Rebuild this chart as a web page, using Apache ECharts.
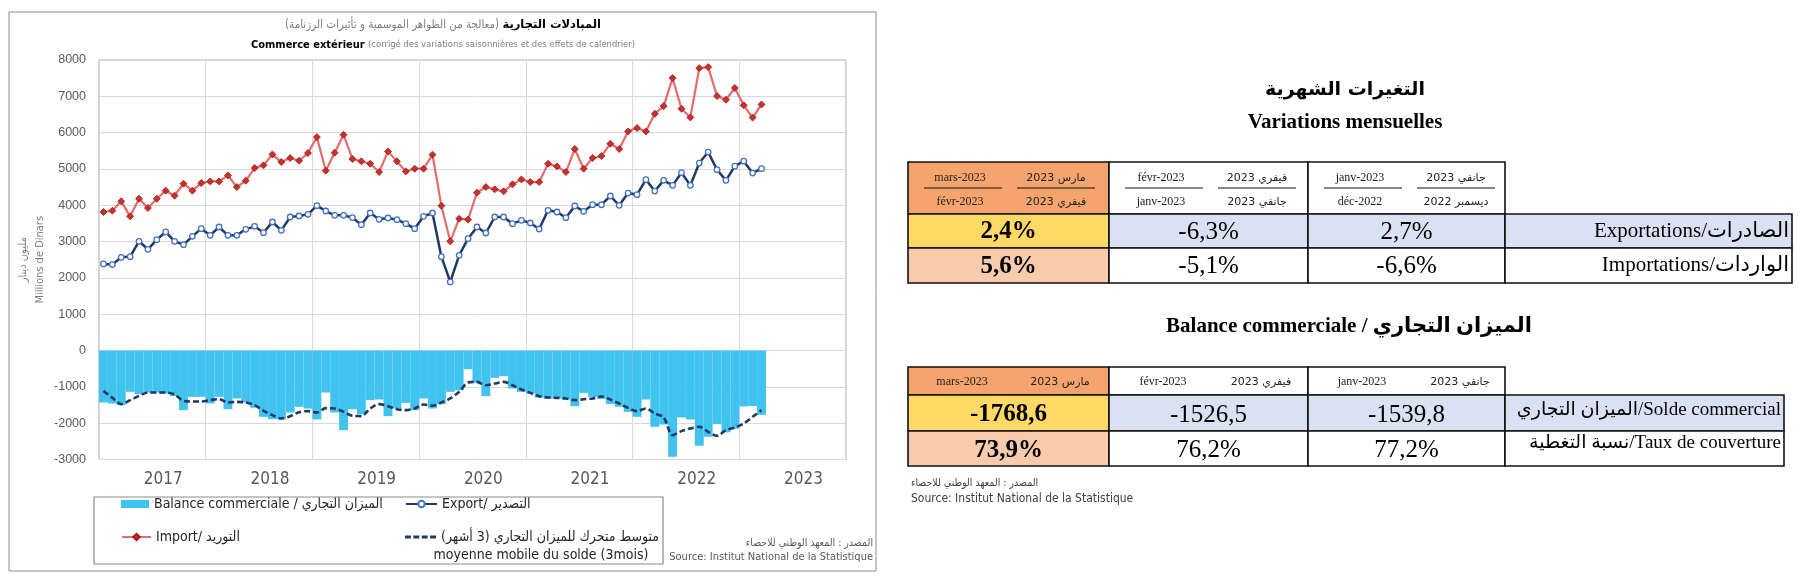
<!DOCTYPE html>
<html><head><meta charset="utf-8">
<script src="https://cdn.jsdelivr.net/npm/echarts@6/dist/echarts.min.js"></script>
<style>html,body{margin:0;padding:0;background:#fff}#c{width:1802px;height:583px}</style>
</head><body><div id="c"></div>
<script>
// ---------- DATA ----------
const years = ['2017','2018','2019','2020','2021','2022','2023'];
const monthNums = ['01','02','03','04','05','06','07','08','09','10','11','12'];

// Export (millions de dinars), Jan 2017 .. Mar 2023
const exportsM = [
  2384, 2366, 2568, 2586, 3008, 2788, 3054, 3265, 3008, 2916, 3145, 3356,
  3173, 3402, 3173, 3173, 3338, 3420, 3246, 3540, 3310, 3677, 3705, 3751,
  3989, 3842, 3723, 3723, 3660, 3466, 3787, 3613, 3650, 3604, 3494, 3356,
  3696, 3787, 2586, 1889, 2623, 3081, 3402, 3237, 3677, 3677, 3494, 3585,
  3512, 3347, 3861, 3815, 3659, 3980, 3833, 4016, 4015, 4255, 3998, 4337,
  4292, 4704, 4392, 4686, 4548, 4897, 4548, 5163, 5465, 4979, 4686, 5076,
  5213, 4887, 5008
];
// Import
const importsM = [
  3815, 3851, 4108, 3695, 4181, 3925, 4181, 4402, 4264, 4594, 4402, 4612,
  4658, 4658, 4823, 4502, 4677, 5025, 5099, 5401, 5190, 5300, 5227, 5438,
  5878, 4952, 5447, 5942, 5273, 5209, 5144, 4915, 5484, 5209, 4933, 5007,
  5007, 5392, 3989, 3008, 3631, 3604, 4347, 4502, 4438, 4383, 4576, 4713,
  4640, 4640, 5144, 5071, 4915, 5548, 5007, 5300, 5355, 5695, 5548, 6034,
  6126, 6034, 6520, 6731, 7501, 6657, 6419, 7776, 7804, 7006, 6905, 7230,
  6753, 6414, 6776
];
// Balance commerciale
const balanceM = [
  -1431, -1458, -1504, -1137, -1201, -1155, -1155, -1183, -1256, -1641, -1275, -1275,
  -1458, -1275, -1614, -1320, -1430, -1577, -1825, -1889, -1889, -1706, -1550, -1596,
  -1898, -1155, -1706, -2192, -1614, -1751, -1366, -1348, -1806, -1596, -1440, -1641,
  -1320, -1596, -1476, -1137, -1091, -514, -890, -1256, -752, -706, -1045, -1137,
  -1183, -1293, -1320, -1320, -1348, -1531, -1165, -1275, -1330, -1470, -1550, -1687,
  -1825, -1348, -2100, -2036, -2925, -1843, -1898, -2623, -2375, -2027, -2250, -2154,
  -1540, -1527, -1769
];
// Moyenne mobile du solde (3 mois)
const balanceMA3 = [
  -1110, -1302, -1476, -1366, -1247, -1155, -1155, -1155, -1210, -1385, -1403, -1403,
  -1366, -1339, -1430, -1412, -1430, -1504, -1660, -1779, -1871, -1806, -1696, -1669,
  -1706, -1586, -1596, -1687, -1797, -1806, -1596, -1476, -1531, -1614, -1641, -1596,
  -1486, -1522, -1430, -1320, -1137, -880, -862, -954, -908, -862, -954, -1073,
  -1165, -1256, -1293, -1302, -1320, -1366, -1339, -1320, -1265, -1348, -1458, -1577,
  -1669, -1596, -1733, -1843, -2329, -2219, -2146, -2100, -2237, -2348, -2192, -2118,
  -2008, -1825, -1641
];
const yMin = -3000, yMax = 8000, yStep = 1000;

// Table 1 : variations mensuelles
const curMonthFr  = ['mars-2023', 'févr-2023', 'janv-2023'];
const curMonthAr  = ['مارس 2023', 'فيفري 2023', 'جانفي 2023'];
const prevMonthFr = ['févr-2023', 'janv-2023', 'déc-2022'];
const prevMonthAr = ['فيفري 2023', 'جانفي 2023', 'ديسمبر 2022'];
const exportVar = ['2,4%', '-6,3%', '2,7%'];
const importVar = ['5,6%', '-5,1%', '-6,6%'];
const table1Labels = ['Exportations/الصادرات', 'Importations/الواردات'];
// Table 2 : balance commerciale
const soldeVals = ['-1768,6', '-1526,5', '-1539,8'];
const couvVals  = ['73,9%', '76,2%', '77,2%'];
const table2Labels = ['الميزان التجاري/Solde commercial', 'نسبة التغطية/Taux de couverture'];

// ---------- BUILD ----------
const rtl = s => '\u200F' + s + '\u200F';
const months = [];
years.forEach(y => monthNums.forEach(m => months.push(y + '-' + m)));

const NARROW = "'Liberation Sans Narrow','DejaVu Sans Condensed','DejaVu Sans',sans-serif";
const SANS = "'Liberation Sans','DejaVu Sans',sans-serif";
const SERIF = "'Liberation Serif','DejaVu Sans',serif";
const ARAB = "'DejaVu Sans',sans-serif";
const ARABC = "'DejaVu Sans Condensed','DejaVu Sans',sans-serif";

const nBal = 'Balance commerciale / الميزان التجاري';
const nExp = 'Export/ التصدير';
const nImp = 'Import/ التوريد';
const nMA = rtl('متوسط متحرك للميزان التجاري (3 أشهر)');

const ORANGE = '#F4A46C', YELLOW = '#FFD966', PEACH = '#F8CBAD', BLUE = '#D9E1F2';

function rect(x, y, w, h, fill, stroke, lw) {
  return {type: 'rect', shape: {x, y, width: w, height: h}, style: {fill: fill || 'none', stroke: stroke || '#111', lineWidth: lw || 1.6}, z: 10, silent: true};
}
function txt(x, y, t, font, align, color, va) {
  return {type: 'text', x, y, style: {text: t, font, align: align || 'center', verticalAlign: va || 'middle', fill: color || '#000'}, z: 12, silent: true};
}
function hline(x1, x2, y, w) {
  return {type: 'line', shape: {x1, y1: y, x2, y2: y}, style: {stroke: '#111', lineWidth: w || 1}, z: 12, silent: true};
}

const g = [];
// chart frame & legend box
g.push(rect(9, 12, 867, 559, 'none', '#8c8c8c', 1));
g.push(rect(94, 497, 569, 67, 'none', '#8c8c8c', 1.2));
// chart titles
g.push({type: 'text', x: 443, y: 25, z: 12, style: {
  text: '{g|' + rtl('(معالجة من الظواهر الموسمية و تأثيرات الرزنامة)') + '} {b|المبادلات التجارية}',
  align: 'center', verticalAlign: 'middle',
  rich: {g: {fontSize: 11.5, fontFamily: ARABC, fill: '#7f7f7f'},
         b: {fontSize: 11.5, fontWeight: 'bold', fontFamily: ARAB, fill: '#000'}}}});
g.push({type: 'text', x: 443, y: 45, z: 12, style: {
  text: '{b|Commerce extérieur} {g|(corrigé des variations saisonnières et des effets de calendrier)}',
  align: 'center', verticalAlign: 'middle',
  rich: {g: {fontSize: 9.4, fontFamily: NARROW, fill: '#7f7f7f'},
         b: {fontSize: 11, fontWeight: 'bold', fontFamily: NARROW, fill: '#000'}}}});
// second line of the moving-average legend
g.push(txt(541, 555, 'moyenne mobile du solde (3mois)', '14px ' + NARROW, 'center', '#262626'));
// sources (chart)
g.push(txt(873, 543, 'المصدر : المعهد الوطني للاحصاء', '10.5px ' + ARABC, 'right', '#595959'));
g.push(txt(873, 557, 'Source: Institut National de la Statistique', '11px ' + NARROW, 'right', '#595959'));

// right side titles
g.push(txt(1345, 90, 'التغيرات الشهرية', 'bold 19px ' + ARAB, 'center', '#000'));
g.push(txt(1345, 123, 'Variations mensuelles', 'bold 21px ' + SERIF, 'center', '#000'));
g.push(txt(1349, 327, 'Balance commerciale / الميزان التجاري', 'bold 21px ' + SERIF, 'center', '#000'));

// ---- table 1 ----
const C = [908, 1109, 1308, 1505];
const W = [201, 199, 197];
const SUB = '12px ' + SERIF;
for (let k = 0; k < 3; k++) {
  g.push(rect(C[k], 162, W[k], 52, k === 0 ? ORANGE : '#fff'));
  g.push(txt(C[k] + 52, 178, curMonthFr[k], SUB, 'center', '#222'));
  g.push(txt(C[k] + 148, 178, curMonthAr[k], '11px ' + ARAB, 'center', '#222'));
  g.push(hline(C[k] + 16, C[k] + 94, 188, 1));
  g.push(hline(C[k] + 109, C[k] + 187, 188, 1));
  g.push(txt(C[k] + 52, 202, prevMonthFr[k], SUB, 'center', '#222'));
  g.push(txt(C[k] + 148, 202, prevMonthAr[k], '11px ' + ARAB, 'center', '#222'));
}
const t1Rows = [[214, 34, exportVar, [YELLOW, BLUE, BLUE, BLUE]], [248, 35, importVar, [PEACH, '#fff', '#fff', '#fff']]];
t1Rows.forEach((r, ri) => {
  const [y, h, vals, fills] = r;
  for (let k = 0; k < 3; k++) {
    g.push(rect(C[k], y, W[k], h, fills[k]));
    g.push(txt(C[k] + W[k] / 2, y + h / 2 + 1, vals[k], (k === 0 ? 'bold ' : '') + '25px ' + SERIF, 'center', '#000'));
  }
  g.push(rect(1505, y, 287, h, fills[3]));
  g.push(txt(1789, y + h / 2, table1Labels[ri], '21px ' + SERIF, 'right', '#000'));
});

// ---- table 2 ----
for (let k = 0; k < 3; k++) {
  g.push(rect(C[k], 367, W[k], 28, k === 0 ? ORANGE : '#fff'));
  g.push(txt(C[k] + 54, 382, curMonthFr[k], SUB, 'center', '#222'));
  g.push(txt(C[k] + 152, 382, curMonthAr[k], '11px ' + ARAB, 'center', '#222'));
}
const t2Rows = [[395, 36, soldeVals, [YELLOW, BLUE, BLUE, BLUE], 410], [431, 35, couvVals, [PEACH, '#fff', '#fff', '#fff'], 443]];
t2Rows.forEach((r, ri) => {
  const [y, h, vals, fills, ly] = r;
  for (let k = 0; k < 3; k++) {
    g.push(rect(C[k], y, W[k], h, fills[k]));
    g.push(txt(C[k] + W[k] / 2, y + h / 2 + 2, vals[k], (k === 0 ? 'bold ' : '') + '25px ' + SERIF, 'center', '#000'));
  }
  g.push(rect(1505, y, 279, h, fills[3]));
  g.push(txt(1781, ly, table2Labels[ri], '19px ' + SERIF, 'right', '#000'));
});
g.push(txt(911, 483, 'المصدر : المعهد الوطني للاحصاء', '10.5px ' + ARABC, 'left', '#404040'));
g.push(txt(911, 499, 'Source: Institut National de la Statistique', '12px ' + NARROW, 'left', '#404040'));

const legendBase = {orient: 'horizontal', padding: 0, itemGap: 0, selectedMode: false,
  textStyle: {fontSize: 14, fontFamily: NARROW, color: '#262626'}};
const dashIcon = 'path://M0,0h6v3h-6zM8.5,0h6v3h-6zM17,0h6v3h-6zM25.5,0h6v3h-6z';

const chart = echarts.init(document.getElementById('c'), null, {renderer: 'canvas'});
chart.setOption({
  animation: false,
  backgroundColor: '#fff',
  grid: {left: 99, right: 956, top: 60, bottom: 123.5, show: true, borderColor: '#a6a6a6', borderWidth: 1, containLabel: false},
  xAxis: {
    type: 'category', data: months, boundaryGap: true,
    axisLine: {show: false}, axisTick: {show: false},
    axisLabel: {interval: (i) => i % 12 === 7, formatter: v => v.slice(0, 4), color: '#595959',
                fontSize: 17, fontFamily: NARROW, margin: 12, padding: [0, 5, 0, 0]},
    splitLine: {show: true, interval: (i) => i % 12 === 0, lineStyle: {color: '#d9d9d9', width: 1}}
  },
  yAxis: {
    type: 'value', min: yMin, max: yMax, interval: yStep,
    axisLine: {show: false}, axisTick: {show: false},
    axisLabel: {color: '#595959', fontSize: 12.5, fontFamily: SANS, margin: 13, formatter: v => String(v)},
    splitLine: {lineStyle: {color: '#d9d9d9', width: 1}},
    name: 'مليون دينار\nMillions de Dinars', nameLocation: 'middle', nameRotate: 90, nameGap: 50,
    nameTextStyle: {color: '#7f7f7f', fontSize: 11, lineHeight: 17, fontFamily: ARABC}
  },
  legend: [
    Object.assign({}, legendBase, {data: [nBal], left: 121, top: 497, itemWidth: 28, itemHeight: 8, icon: 'rect'}),
    Object.assign({}, legendBase, {data: [nExp], left: 405, top: 497, itemWidth: 31, itemHeight: 8}),
    Object.assign({}, legendBase, {data: [nImp], left: 121, top: 530, itemWidth: 29, itemHeight: 8}),
    Object.assign({}, legendBase, {data: [{name: nMA, icon: dashIcon}], left: 405, top: 530, itemWidth: 31, itemHeight: 3})
  ],
  series: [
    {name: nBal, type: 'bar', data: balanceM, barCategoryGap: '0%', itemStyle: {color: '#41C3EF'}, z: 1},
    {name: nExp, type: 'line', data: exportsM, symbol: 'circle', symbolSize: 5.5, showSymbol: true, showAllSymbol: true,
     lineStyle: {color: '#1F3864', width: 2.5}, itemStyle: {color: '#fff', borderColor: '#4472C4', borderWidth: 1.3}, z: 3},
    {name: nImp, type: 'line', data: importsM, symbol: 'diamond', symbolSize: 7, showSymbol: true, showAllSymbol: true,
     lineStyle: {color: '#E46C6C', width: 2.2}, itemStyle: {color: '#C9302C', borderColor: '#A01C1C', borderWidth: 0.8}, z: 3},
    {name: nMA, type: 'line', data: balanceMA3, symbol: 'none', smooth: 0.3,
     lineStyle: {color: '#1F3864', width: 2.6, type: [6, 3]}, itemStyle: {color: '#1F3864'}, z: 4}
  ],
  graphic: g
});
</script></body></html>
